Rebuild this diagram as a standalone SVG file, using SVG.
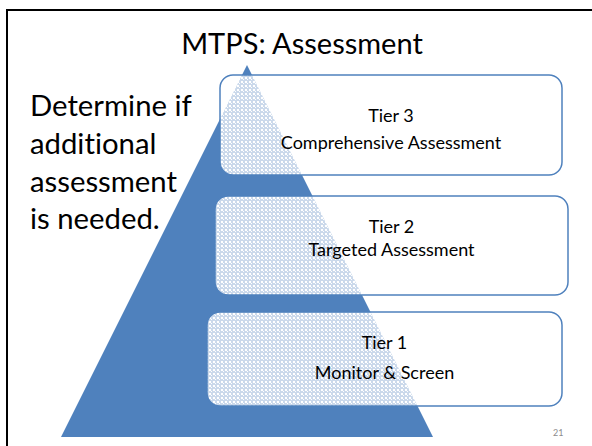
<svg xmlns="http://www.w3.org/2000/svg" width="592" height="446" viewBox="0 0 592 446">
  <defs>
    <!-- dithered white fill: mostly opaque, so the pyramid shows through as a light fine texture -->
    <pattern id="dither" width="4" height="4" patternUnits="userSpaceOnUse">
      <rect x="0" y="0" width="4" height="4" fill="#ffffff" fill-opacity="0.7"/>
      <rect x="1" y="1" width="2" height="2" fill="#ffffff"/>
      <rect x="3" y="3" width="1" height="1" fill="#ffffff"/>
    </pattern>
  </defs>
  <style>
    text { font-variant-ligatures: none; }
    .frame { fill: none; stroke: #000000; stroke-width: 2; }
    .title { font-family: Lato, "Open Sans", sans-serif; font-size: 29px; fill: #000000; text-anchor: middle; }
    .lead { font-family: Lato, "Open Sans", sans-serif; font-size: 29.3px; fill: #000000; }
    .pyramid { fill: #4f81bd; }
    .tier rect { fill: url(#dither); stroke: #4f81bd; stroke-width: 1.5; }
    .tier text { font-family: Lato, "Open Sans", sans-serif; font-size: 18px; fill: #000000; text-anchor: middle; }
    .pagenum { font-family: Lato, "Open Sans", sans-serif; font-size: 9px; fill: #8c8c8c; }
  </style>

  <rect width="592" height="446" fill="#ffffff"/>
  <rect class="frame" x="7" y="10" width="600" height="460"/>

  <text class="title" x="302" y="54">MTPS: Assessment</text>

  <g id="lead-text">
    <text class="lead" x="30" y="116">Determine if</text>
    <text class="lead" x="30" y="154">additional</text>
    <text class="lead" x="30" y="192">assessment</text>
    <text class="lead" x="30" y="229">is needed.</text>
  </g>

  <polygon id="pyramid" class="pyramid" points="247,65 433,437 61,437"/>

  <g id="tier3" class="tier">
    <rect x="220" y="75" width="342" height="100" rx="13"/>
    <text x="391" y="122">Tier 3</text>
    <text x="391" y="149">Comprehensive Assessment</text>
  </g>

  <g id="tier2" class="tier">
    <rect x="215" y="196" width="353" height="99" rx="13"/>
    <text x="391.5" y="233">Tier 2</text>
    <text x="391.5" y="256">Targeted Assessment</text>
  </g>

  <g id="tier1" class="tier">
    <rect x="207" y="312" width="355" height="94" rx="13"/>
    <text x="384.5" y="349">Tier 1</text>
    <text x="384.5" y="379">Monitor &amp; Screen</text>
  </g>

  <text class="pagenum" x="553" y="436">21</text>
</svg>
